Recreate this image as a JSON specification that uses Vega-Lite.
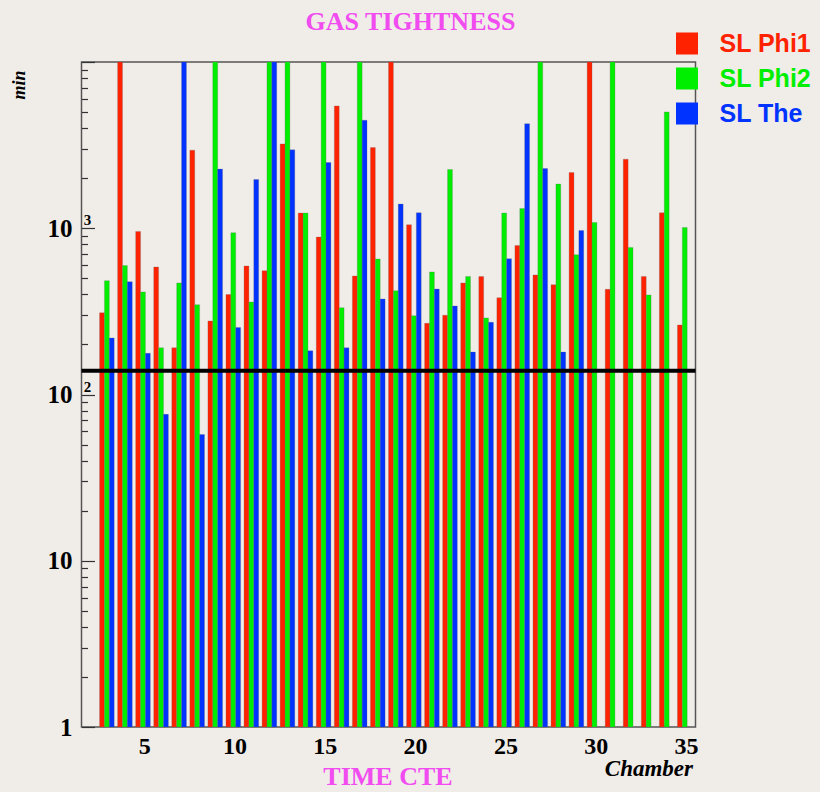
{
  "$schema": "https://vega.github.io/schema/vega-lite/v6.json",
  "width": 614,
  "height": 665,
  "autosize": "none",
  "padding": {"left": 81.5, "top": 62, "right": 124.5, "bottom": 65},
  "background": "#f0ece8",
  "title": {"text": "GAS TIGHTNESS", "anchor": "middle", "frame": "group", "dx": 22, "offset": -4, "font": "Liberation Serif", "fontSize": 26, "fontWeight": "bold", "color": "#f04cf0"},
  "config": {"view": {"stroke": "#555", "strokeWidth": 1.5}, "font": "Liberation Serif"},
  "layer": [
    {
      "data": {"values": [
        {"chamber": 2, "series": "SL Phi1", "minutes": 310}, {"chamber": 2, "series": "SL Phi2", "minutes": 484}, {"chamber": 2, "series": "SL The", "minutes": 219},
        {"chamber": 3, "series": "SL Phi1", "minutes": 10000}, {"chamber": 3, "series": "SL Phi2", "minutes": 596}, {"chamber": 3, "series": "SL The", "minutes": 477},
        {"chamber": 4, "series": "SL Phi1", "minutes": 957}, {"chamber": 4, "series": "SL Phi2", "minutes": 414}, {"chamber": 4, "series": "SL The", "minutes": 177},
        {"chamber": 5, "series": "SL Phi1", "minutes": 585}, {"chamber": 5, "series": "SL Phi2", "minutes": 191}, {"chamber": 5, "series": "SL The", "minutes": 76},
        {"chamber": 6, "series": "SL Phi1", "minutes": 191}, {"chamber": 6, "series": "SL Phi2", "minutes": 469}, {"chamber": 6, "series": "SL The", "minutes": 10000},
        {"chamber": 7, "series": "SL Phi1", "minutes": 2949}, {"chamber": 7, "series": "SL Phi2", "minutes": 347}, {"chamber": 7, "series": "SL The", "minutes": 57.5},
        {"chamber": 8, "series": "SL Phi1", "minutes": 277}, {"chamber": 8, "series": "SL Phi2", "minutes": 10000}, {"chamber": 8, "series": "SL The", "minutes": 2268},
        {"chamber": 9, "series": "SL Phi1", "minutes": 399}, {"chamber": 9, "series": "SL Phi2", "minutes": 940}, {"chamber": 9, "series": "SL The", "minutes": 253},
        {"chamber": 10, "series": "SL Phi1", "minutes": 593}, {"chamber": 10, "series": "SL Phi2", "minutes": 360}, {"chamber": 10, "series": "SL The", "minutes": 1964},
        {"chamber": 11, "series": "SL Phi1", "minutes": 555}, {"chamber": 11, "series": "SL Phi2", "minutes": 10000}, {"chamber": 11, "series": "SL The", "minutes": 10000},
        {"chamber": 12, "series": "SL Phi1", "minutes": 3217}, {"chamber": 12, "series": "SL Phi2", "minutes": 10000}, {"chamber": 12, "series": "SL The", "minutes": 2961},
        {"chamber": 13, "series": "SL Phi1", "minutes": 1234}, {"chamber": 13, "series": "SL Phi2", "minutes": 1234}, {"chamber": 13, "series": "SL The", "minutes": 183},
        {"chamber": 14, "series": "SL Phi1", "minutes": 885}, {"chamber": 14, "series": "SL Phi2", "minutes": 10000}, {"chamber": 14, "series": "SL The", "minutes": 2485},
        {"chamber": 15, "series": "SL Phi1", "minutes": 5441}, {"chamber": 15, "series": "SL Phi2", "minutes": 333}, {"chamber": 15, "series": "SL The", "minutes": 191},
        {"chamber": 16, "series": "SL Phi1", "minutes": 516}, {"chamber": 16, "series": "SL Phi2", "minutes": 10000}, {"chamber": 16, "series": "SL The", "minutes": 4464},
        {"chamber": 17, "series": "SL Phi1", "minutes": 3057}, {"chamber": 17, "series": "SL Phi2", "minutes": 653}, {"chamber": 17, "series": "SL The", "minutes": 376},
        {"chamber": 18, "series": "SL Phi1", "minutes": 10000}, {"chamber": 18, "series": "SL Phi2", "minutes": 421}, {"chamber": 18, "series": "SL The", "minutes": 1397},
        {"chamber": 19, "series": "SL Phi1", "minutes": 1050}, {"chamber": 19, "series": "SL Phi2", "minutes": 298}, {"chamber": 19, "series": "SL The", "minutes": 1239},
        {"chamber": 20, "series": "SL Phi1", "minutes": 268}, {"chamber": 20, "series": "SL Phi2", "minutes": 546}, {"chamber": 20, "series": "SL The", "minutes": 431},
        {"chamber": 21, "series": "SL Phi1", "minutes": 300}, {"chamber": 21, "series": "SL Phi2", "minutes": 2255}, {"chamber": 21, "series": "SL The", "minutes": 341},
        {"chamber": 22, "series": "SL Phi1", "minutes": 469}, {"chamber": 22, "series": "SL Phi2", "minutes": 513}, {"chamber": 22, "series": "SL The", "minutes": 180},
        {"chamber": 23, "series": "SL Phi1", "minutes": 513}, {"chamber": 23, "series": "SL Phi2", "minutes": 289}, {"chamber": 23, "series": "SL The", "minutes": 272},
        {"chamber": 24, "series": "SL Phi1", "minutes": 382}, {"chamber": 24, "series": "SL Phi2", "minutes": 1234}, {"chamber": 24, "series": "SL The", "minutes": 656},
        {"chamber": 25, "series": "SL Phi1", "minutes": 788}, {"chamber": 25, "series": "SL Phi2", "minutes": 1315}, {"chamber": 25, "series": "SL The", "minutes": 4259},
        {"chamber": 26, "series": "SL Phi1", "minutes": 524}, {"chamber": 26, "series": "SL Phi2", "minutes": 10000}, {"chamber": 26, "series": "SL The", "minutes": 2287},
        {"chamber": 27, "series": "SL Phi1", "minutes": 458}, {"chamber": 27, "series": "SL Phi2", "minutes": 1843}, {"chamber": 27, "series": "SL The", "minutes": 180},
        {"chamber": 28, "series": "SL Phi1", "minutes": 2163}, {"chamber": 28, "series": "SL Phi2", "minutes": 693}, {"chamber": 28, "series": "SL The", "minutes": 970},
        {"chamber": 29, "series": "SL Phi1", "minutes": 10000}, {"chamber": 29, "series": "SL Phi2", "minutes": 1083},
        {"chamber": 30, "series": "SL Phi1", "minutes": 429}, {"chamber": 30, "series": "SL Phi2", "minutes": 10000},
        {"chamber": 31, "series": "SL Phi1", "minutes": 2604}, {"chamber": 31, "series": "SL Phi2", "minutes": 767},
        {"chamber": 32, "series": "SL Phi1", "minutes": 513}, {"chamber": 32, "series": "SL Phi2", "minutes": 397},
        {"chamber": 33, "series": "SL Phi1", "minutes": 1239}, {"chamber": 33, "series": "SL Phi2", "minutes": 5008},
        {"chamber": 34, "series": "SL Phi1", "minutes": 262}, {"chamber": 34, "series": "SL Phi2", "minutes": 1011}
      ]},
      "mark": {"type": "bar", "clip": true, "stroke": "#666", "strokeWidth": 0.5, "strokeOpacity": 0.5},
      "encoding": {
        "x": {
          "field": "chamber", "type": "ordinal",
          "scale": {"domain": [1,2,3,4,5,6,7,8,9,10,11,12,13,14,15,16,17,18,19,20,21,22,23,24,25,26,27,28,29,30,31,32,33,34], "paddingInner": 0, "paddingOuter": 0},
          "axis": {
            "values": [4, 9, 14, 19, 24, 29, 34], "bandPosition": 1, "labelExpr": "datum.value + 1",
            "labelAngle": 0, "ticks": false, "domain": false, "grid": false,
            "labelFont": "Liberation Serif", "labelFontSize": 24, "labelFontWeight": "bold", "labelColor": "black", "labelPadding": 7,
            "title": "Chamber", "titleFont": "Liberation Serif", "titleFontStyle": "italic", "titleFontWeight": "bold", "titleFontSize": 23, "titleColor": "black",
            "titleAnchor": "end", "titleAlign": "right", "titleBaseline": "middle", "titleX": 611, "titleY": 41
          }
        },
        "xOffset": {"field": "series", "scale": {"domain": ["SL Phi1", "SL Phi2", "SL The"], "paddingInner": 0, "paddingOuter": 0.35, "align": 0}},
        "y": {
          "field": "minutes", "type": "quantitative", "stack": null,
          "scale": {"type": "log", "domain": [1, 10000], "nice": false},
          "axis": {
            "zindex": 1,
            "values": [1,2,3,4,5,6,7,8,9,10,20,30,40,50,60,70,80,90,100,200,300,400,500,600,700,800,900,1000,2000,3000,4000,5000,6000,7000,8000,9000,10000],
            "tickSize": {"expr": "indexof([1,10,100,1000,10000], datum.value) >= 0 ? -13 : -6"},
            "ticks": true, "tickColor": "#333", "tickWidth": 1.2, "tickOpacity": 1, "domain": false, "grid": false,
            "labelExpr": "datum.value == 1 ? '1' : (datum.value == 10 || datum.value == 100 || datum.value == 1000) ? '10' : ''",
            "labelFont": "Liberation Serif", "labelFontSize": 25, "labelFontWeight": "bold", "labelColor": "black", "labelPadding": 22.5,
            "labelOverlap": false, "labelFlush": false, "labelBound": false,
            "title": "min", "titleFont": "Liberation Serif", "titleFontStyle": "italic", "titleFontWeight": "bold", "titleFontSize": 18, "titleColor": "black",
            "titleAngle": 270, "titleAlign": "right", "titleBaseline": "middle", "titleX": -62, "titleY": 8
          }
        },
        "y2": {"datum": 1},
        "color": {
          "field": "series", "type": "nominal",
          "scale": {"domain": ["SL Phi1", "SL Phi2", "SL The"], "range": ["#ff2200", "#00ee00", "#0033ff"]},
          "legend": {
            "title": null, "orient": "none", "legendX": 593, "legendY": -31,
            "symbolType": "square", "symbolSize": 484, "symbolStrokeWidth": 0, "symbolOpacity": 1,
            "labelFont": "Liberation Sans", "labelFontSize": 25, "labelFontWeight": "bold", "labelOffset": 20, "labelLimit": 200,
            "labelColor": {"expr": "datum.value == 'SL Phi1' ? '#ff2200' : datum.value == 'SL Phi2' ? '#00ee00' : '#0033ff'"},
            "rowPadding": 9, "padding": 0
          }
        }
      }
    },
    {
      "data": {"values": [{"limit": 139}]},
      "mark": {"type": "rule", "color": "black", "strokeWidth": 4},
      "encoding": {"y": {"field": "limit", "type": "quantitative"}}
    },
    {
      "data": {"values": [{"power": 100, "exponent": "2"}, {"power": 1000, "exponent": "3"}]},
      "mark": {"type": "text", "font": "Liberation Serif", "fontSize": 15, "fontWeight": "bold", "dx": -3, "dy": -8, "align": "center", "baseline": "middle", "color": "black"},
      "encoding": {
        "x": {"datum": 1, "type": "ordinal"},
        "y": {"field": "power", "type": "quantitative"},
        "text": {"field": "exponent"}
      }
    },
    {
      "data": {"values": [{"caption": "TIME CTE"}]},
      "mark": {"type": "text", "font": "Liberation Serif", "fontSize": 26, "fontWeight": "bold", "color": "#f04cf0", "dx": 8.5, "baseline": "middle", "align": "center"},
      "encoding": {
        "x": {"datum": 17, "type": "ordinal"},
        "y": {"datum": 0.5, "type": "quantitative"},
        "text": {"field": "caption"}
      }
    }
  ]
}
